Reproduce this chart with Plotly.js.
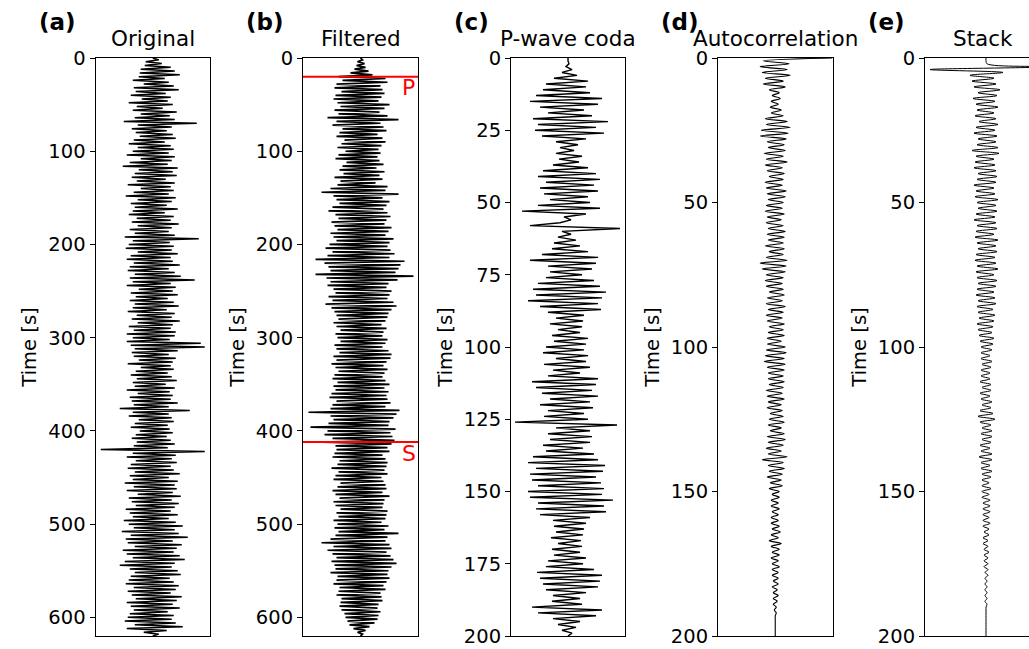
<!DOCTYPE html>
<html><head><meta charset="utf-8">
<script src="https://cdn.plot.ly/plotly-3.0.1.min.js"></script>
<style>html,body{margin:0;padding:0;overflow:hidden;background:#fff}</style>
</head><body><div id="chart" style="width:1045px;height:649px"></div>
<script>
// Panel titles and labels
const panelLabels = ['(a)', '(b)', '(c)', '(d)', '(e)'];
const panelTitles = ['Original', 'Filtered', 'P-wave coda', 'Autocorrelation', 'Stack'];
const yLabel = 'Time [s]';

// Phase picks on the filtered trace [s]
const pickNames = ['P', 'S'];
const pickTimes = [20, 412];

// Sampling (start time, interval in s)
const longT0 = 0, longDt = 2;   // panels (a), (b): 0-620 s
const shortT0 = 0, shortDt = 1; // panels (c), (d), (e): 0-200 s

// (a) Original trace, amplitude (arbitrary units), every 2 s from 0 to 620 s
const original = [
 0,6,-7,9,-8,18,-12,22,-13,27,
 -14,12,-20,16,-9,21,-19,26,-17,13,
 -22,18,-11,15,-24,20,-16,10,-20,24,
 -12,17,-18,22,-29,44,-15,19,-21,14,
 -17,20,-13,23,-19,12,-24,18,-15,21,
 -20,16,-26,22,-12,19,-23,15,-30,25,
 -14,20,-18,24,-21,13,-16,22,-25,18,
 -12,21,-19,16,-27,23,-15,19,-22,14,
 -18,25,-20,12,-24,21,-16,18,-21,26,
 -15,19,-23,16,-18,22,-28,46,-20,17,
 -24,21,-27,19,-15,25,-22,18,-26,20,
 -19,27,-23,16,-25,22,-18,28,-23,42,
 -20,18,-26,23,-14,20,-22,25,-17,15,
 -23,21,-18,26,-20,14,-25,22,-16,19,
 -21,27,-15,20,-24,18,-19,23,-26,22,
 -20,17,-26,48,-22,52,-18,25,-21,16,
 -19,23,-14,20,-25,18,-12,21,-17,15,
 -22,19,-16,24,-20,13,-18,22,-26,17,
 -15,20,-23,18,-21,25,-19,16,-33,37,
 -20,16,-24,19,-14,21,-18,15,-22,17,
 -13,20,-17,14,-21,18,-16,22,-19,15,
 -52,52,-20,23,-26,19,-17,24,-22,18,
 -25,21,-18,27,-23,16,-20,25,-28,22,
 -19,24,-26,20,-15,28,-24,19,-21,26,
 -17,22,-27,18,-23,25,-20,16,-29,23,
 -24,30,-19,22,-31,26,-22,35,-27,20,
 -25,29,-18,24,-30,21,-26,27,-20,32,
 -28,22,-33,19,-23,25,-18,28,-22,17,
 -24,21,-27,26,-19,23,-25,18,-21,29,
 -17,24,-26,20,-22,27,-19,15,-23,21,
 -25,19,-28,23,-18,30,-26,14,-9,6,
 0
];

// (b) Filtered trace, every 2 s from 0 to 620 s
const filtered = [
 0,2,-3,4,-4,5,-6,8,-10,12,
 -22,25,-18,27,-24,20,-26,22,-19,24,
 -25,21,-27,18,-23,29,-20,24,-26,19,
 -22,27,-33,38,-24,20,-28,23,-18,26,
 -21,17,-24,22,-16,25,-19,21,-23,18,
 -15,20,-22,17,-25,19,-14,23,-18,16,
 -21,24,-17,19,-26,22,-20,15,-23,27,
 -30,25,-39,38,-27,22,-24,29,-21,26,
 -28,23,-32,27,-25,30,-22,26,-29,24,
 -26,31,-23,28,-30,25,-27,33,-24,29,
 -31,27,-35,30,-28,34,-33,29,-45,44,
 -36,40,-32,38,-30,35,-45,53,-34,37,
 -30,28,-33,26,-27,31,-25,29,-32,27,
 -28,33,-35,36,-29,31,-26,28,-24,27,
 -22,25,-27,21,-24,26,-20,23,-25,22,
 -23,27,-20,25,-26,22,-24,28,-21,31,
 -27,30,-24,26,-29,23,-25,27,-22,24,
 -26,22,-28,25,-23,29,-27,24,-25,28,
 -29,26,-31,27,-24,30,-28,25,-30,39,
 -52,36,-30,33,-27,29,-32,28,-50,35,
 -33,30,-36,32,-28,34,-38,31,-25,27,
 -24,29,-26,22,-28,25,-21,27,-23,26,
 -29,24,-22,27,-25,21,-27,23,-20,25,
 -23,26,-28,22,-25,29,-21,24,-27,23,
 -25,22,-20,27,-24,26,-22,25,-27,21,
 -23,28,-26,24,-22,38,-25,27,-30,25,
 -39,29,-27,31,-33,26,-28,30,-24,33,
 -29,36,-26,31,-25,28,-30,27,-23,29,
 -24,26,-27,23,-21,25,-22,20,-24,21,
 -19,22,-20,18,-21,17,-19,20,-16,18,
 -15,17,-13,14,-11,9,-7,5,-3,2,
 0
];

// (c) P-wave coda, every 1 s from 0 to 200 s
const coda = [
 0,0,1,-2,4,-6,9,-14,20,-22,
 18,-25,22,-32,34,-38,30,-28,16,-20,
 24,-35,40,-30,28,-33,36,-26,18,-12,
 10,-8,6,-12,14,-9,11,-15,20,-25,
 28,-30,32,-22,26,-28,30,-24,20,-18,
 22,-30,32,-46,18,-4,3,-8,-38,52,
 -6,3,-10,8,-14,12,-16,20,-26,30,
 -38,28,-20,24,-18,14,-22,26,-30,32,
 -35,38,-32,34,-40,30,-28,33,-20,16,
 -12,15,-18,14,-10,12,-16,20,-14,18,
 -22,16,-25,20,-12,18,-24,22,-15,12,
 -20,30,-36,28,-32,24,-26,30,-18,22,
 -28,25,-20,16,-24,20,-53,49,-12,22,
 -20,24,-18,22,-25,15,-22,26,-35,30,
 -40,37,-32,35,-38,28,-36,33,-30,36,
 -40,34,-38,45,-30,36,-32,38,-28,22,
 -15,18,-14,16,-12,15,-17,13,-10,14,
 -16,12,-14,18,-20,15,-22,26,-31,34,
 -28,32,-25,30,-22,18,-15,12,-16,14,
 -36,34,-30,28,-15,12,-10,8,-6,4,
 0
];

// (d) Autocorrelation, every 1 s lag from 0 to 200 s
const autocorr = [
 57,-12,14,-15,12,-13,15,-10,8,-12,
 10,-6,4,-3,5,-4,3,-5,6,-4,
 8,-10,12,-9,15,-14,13,-15,11,-8,
 9,-7,10,-11,8,-9,12,-10,7,-8,
 9,-6,8,-10,7,-9,11,-8,10,-7,
 8,-9,7,-10,9,-8,6,-9,8,-7,
 10,-8,9,-7,8,-10,9,-6,8,-9,
 12,-15,11,-13,10,-9,8,-10,7,-9,
 8,-6,9,-8,7,-9,10,-7,8,-9,
 7,-8,9,-6,8,-7,9,-8,6,-8,
 10,-9,11,-10,9,-11,10,-8,9,-7,
 8,-7,9,-6,8,-9,7,-8,9,-7,
 6,-8,7,-5,8,-6,9,-7,6,-5,
 9,-8,10,-7,8,-9,6,-7,12,-13,
 8,-7,9,-6,7,-8,6,-5,7,-6,
 4,-3,4,-4,3,-4,4,-3,3,-4,
 3,-4,4,-3,5,-4,3,-6,6,-4,
 4,-3,4,-4,3,-3,4,-3,3,-3,
 3,-2,3,-3,2,-2,3,-2,2,-2,
 1,-1,1,0,0,0,0,0,0,0,
 0
];

// (e) Stack, every 1 s from 0 to 200 s
const stack = [
 0,0,1,62,-56,17,-16,8,-14,10,
 -12,14,-8,11,-13,9,-10,12,-9,8,
 -11,10,-7,12,-10,9,-12,11,-8,10,
 -9,12,-14,13,-10,8,-11,9,-12,10,
 -8,11,-9,10,-12,8,-10,9,-11,12,
 -9,10,-8,11,-10,9,-12,10,-9,11,
 -10,8,-11,12,-9,10,-8,11,-10,9,
 -11,10,-9,12,-10,8,-9,11,-8,10,
 -9,8,-10,9,-8,10,-9,7,-8,9,
 -7,8,-9,7,-8,6,-7,8,-6,7,
 -5,6,-5,4,-5,6,-4,5,-5,4,
 -5,4,-6,5,-4,5,-6,4,-5,6,
 -4,5,-6,7,-8,9,-6,5,-4,6,
 -5,6,-4,5,-6,4,-5,6,-7,6,
 -5,4,-5,6,-4,5,-4,3,-4,5,
 -4,3,-4,4,-3,4,-3,4,-3,3,
 -3,4,-3,3,-2,3,-3,2,-3,2,
 -2,3,-2,2,-2,2,-2,2,-1,2,
 -1,1,-1,1,-1,1,-1,1,-1,1,
 0,0,0,0,0,0,0,0,0,0,
 0
];

const W = 1045, H = 649;
const FONT = 'DejaVu Sans, Liberation Sans, sans-serif';
// panel pixel boxes
const leftPx = [95.5, 303, 511, 718, 925];
const rightPx = [210, 418, 625, 832.5, 1040];
const topPx = 58, botPx = 636;
const yDom = [(H - botPx) / H, (H - topPx) / H];
const xRanges = [[-57.25,57.25],[-57.5,57.5],[-57,57],[-57.25,57.25],[-61,54]];
const yMax = [620, 620, 200, 200, 200];
const yTick = [100, 100, 25, 50, 50];
const lineW = [1.5, 1.7, 1.4, 1.1, 1.0];

const series = [original, filtered, coda, autocorr, stack];
const traces = series.map((vals, i) => ({
  type: 'scatter', mode: 'lines',
  x: vals,
  y0: i < 2 ? longT0 : shortT0,
  dy: i < 2 ? longDt : shortDt,
  xaxis: i === 0 ? 'x' : 'x' + (i + 1),
  yaxis: i === 0 ? 'y' : 'y' + (i + 1),
  line: {color: '#000', width: lineW[i], shape: i >= 3 ? 'spline' : 'linear'},
  hoverinfo: 'skip', showlegend: false
}));

const layout = {
  width: W, height: H,
  margin: {l: 0, r: 0, t: 0, b: 0},
  paper_bgcolor: '#fff', plot_bgcolor: '#fff',
  showlegend: false,
  font: {family: FONT, color: '#000', size: 19.5},
  annotations: [], shapes: []
};

for (let i = 0; i < 5; i++) {
  const s = i === 0 ? '' : String(i + 1);
  layout['xaxis' + s] = {
    domain: [leftPx[i] / W, rightPx[i] / W], range: xRanges[i],
    anchor: 'y' + s, showticklabels: false, ticks: '',
    showline: true, mirror: true, linecolor: '#000', linewidth: 1,
    showgrid: false, zeroline: false, fixedrange: true
  };
  layout['yaxis' + s] = {
    domain: yDom, range: [yMax[i], 0], anchor: 'x' + s,
    tick0: 0, dtick: yTick[i], ticks: 'outside', ticklen: 5, tickwidth: 1, tickcolor: '#000',
    showline: true, mirror: true, linecolor: '#000', linewidth: 1,
    showgrid: false, zeroline: false, fixedrange: true,
    tickfont: {family: FONT, size: 19.5, color: '#000'},
    title: {text: yLabel, font: {family: FONT, size: 19.5, color: '#000'}, standoff: 6}
  };
  const cx = (leftPx[i] + rightPx[i]) / 2;
  layout.annotations.push({
    xref: 'paper', yref: 'paper', x: cx / W, y: (H - 53) / H,
    xanchor: 'center', yanchor: 'bottom', showarrow: false,
    text: panelTitles[i], font: {family: FONT, size: 21.5, color: '#000'}
  });
  layout.annotations.push({
    xref: 'paper', yref: 'paper', x: (leftPx[i] - 59) / W, y: (H - 22) / H,
    xanchor: 'left', yanchor: 'middle', showarrow: false,
    text: '<b>' + panelLabels[i] + '</b>', font: {family: FONT, size: 23, color: '#000'}
  });
}

// P and S picks on panel (b)
pickTimes.forEach((t, k) => {
  layout.shapes.push({
    type: 'line', xref: 'x2 domain', yref: 'y2', x0: 0, x1: 1, y0: t, y1: t,
    line: {color: 'red', width: 2}
  });
  layout.annotations.push({
    xref: 'x2 domain', yref: 'y2', x: 0.92, y: t - 3.5,
    xanchor: 'center', yanchor: 'top', showarrow: false,
    text: pickNames[k], font: {family: FONT, size: 22, color: 'red'}
  });
});

Plotly.newPlot('chart', traces, layout, {displayModeBar: false, staticPlot: true});
</script>
</body></html>
